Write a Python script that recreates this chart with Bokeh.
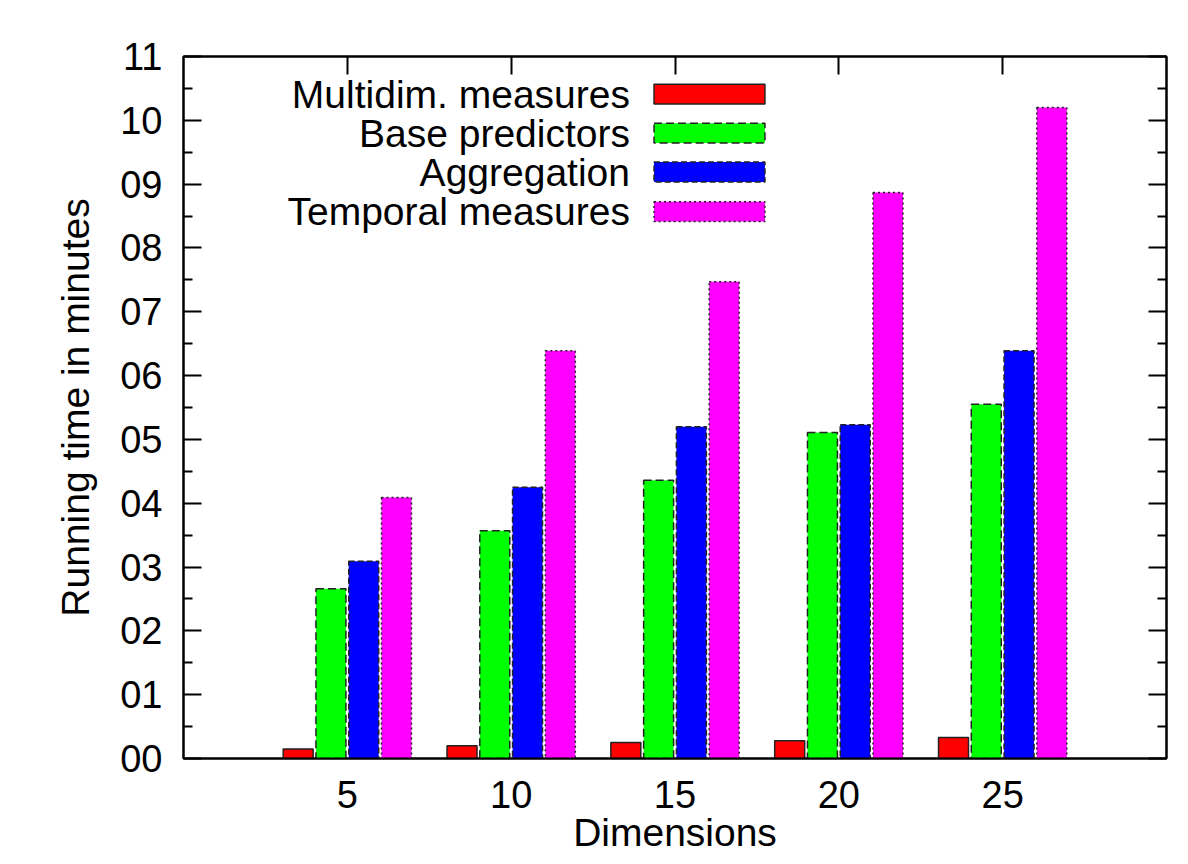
import numpy as np
from bokeh.plotting import figure
from bokeh.models import Range1d, FixedTicker, LinearAxis, ColumnDataSource
from bokeh.core.properties import value
from bokeh.embed import file_html
from bokeh.resources import INLINE

dims = ["5", "10", "15", "20", "25"]
series = ["Multidim. measures", "Base predictors", "Aggregation", "Temporal measures"]
multidim = [0.15, 0.20, 0.25, 0.28, 0.33]
base_pred = [2.66, 3.57, 4.36, 5.11, 5.55]
aggregation = [3.09, 4.25, 5.20, 5.23, 6.39]
temporal = [4.09, 6.39, 7.47, 8.87, 10.20]
y_ticks = list(range(12))
y_labels = ["%02d" % t for t in y_ticks]

values = [multidim, base_pred, aggregation, temporal]
colors = ["#ff0000", "#00ff00", "#0000ff", "#ff00ff"]
dashes = ["solid", "8 4", "6 3", "2 3"]
offsets = [-0.3, -0.1, 0.1, 0.3]

FONT = "Liberation Sans"
FS = "38px"
FS2 = "39px"

p = figure(width=1188, height=864, output_backend="svg", toolbar_location=None,
           x_range=Range1d(-1, 5), y_range=Range1d(0, 11),
           min_border_left=183, min_border_right=22, min_border_top=56, min_border_bottom=106)
p.xgrid.visible = False
p.ygrid.visible = False
p.outline_line_color = "black"
p.outline_line_width = 2
p.background_fill_color = "white"
p.border_fill_color = "white"

idx = np.arange(len(dims))
for vals, col, dsh, off in zip(values, colors, dashes, offsets):
    p.vbar(x=idx + off, top=vals, bottom=0, width=0.183, fill_color=col,
           line_color="#222222", line_width=1.5, line_dash=dsh)

# legend (labels to the left of samples)
leg_y = [10.41, 9.80, 9.19, 8.57]
src = ColumnDataSource(dict(x=[1.725] * 4, y=leg_y, t=series))
p.text(x="x", y="y", text="t", source=src, text_align="right", text_baseline="middle",
       text_font=value(FONT), text_font_size=FS2, text_color="black")
for yy, col, dsh in zip(leg_y, colors, dashes):
    p.quad(left=[1.872], right=[2.549], bottom=[yy - 0.155], top=[yy + 0.155],
           fill_color=col, line_color="#222222", line_width=1.5, line_dash=dsh)

# axes
yt = FixedTicker(ticks=y_ticks, minor_ticks=[t + 0.5 for t in y_ticks[:-1]])
xt = FixedTicker(ticks=list(idx), minor_ticks=[])

def style(ax):
    ax.axis_line_width = 2
    ax.major_tick_line_width = 2
    ax.minor_tick_line_width = 2
    ax.major_tick_out = 0
    ax.minor_tick_out = 0
    ax.major_label_text_font = FONT
    ax.major_label_text_font_size = FS
    ax.major_label_text_color = "black"

yax = p.yaxis[0]
yax.ticker = yt
style(yax)
yax.major_tick_in = 18
yax.minor_tick_in = 9
yax.major_label_overrides = {t: l for t, l in zip(y_ticks, y_labels)}
yax.major_label_standoff = 21
yax.axis_label = "Running time in minutes"
yax.axis_label_text_font = FONT
yax.axis_label_text_font_size = FS2
yax.axis_label_text_font_style = "normal"
yax.axis_label_text_color = "black"
yax.axis_label_standoff = 20

xax = p.xaxis[0]
xax.ticker = xt
style(xax)
xax.major_tick_in = 0
xax.minor_tick_in = 0
xax.major_label_overrides = {int(i): d for i, d in zip(idx, dims)}
xax.major_label_standoff = 22
xax.axis_label = "Dimensions"
xax.axis_label_text_font = FONT
xax.axis_label_text_font_size = FS2
xax.axis_label_text_font_style = "normal"
xax.axis_label_text_color = "black"
xax.axis_label_standoff = 0

rax = LinearAxis(ticker=yt)
style(rax)
rax.major_tick_in = 18
rax.minor_tick_in = 9
rax.major_label_text_font_size = "0px"
rax.major_label_standoff = 0
p.add_layout(rax, "right")

tax = LinearAxis(ticker=xt)
style(tax)
tax.major_tick_in = 18
tax.minor_tick_in = 0
tax.major_label_text_font_size = "0px"
tax.major_label_standoff = 0
p.add_layout(tax, "above")

open("out.html", "w").write(file_html(p, INLINE))
